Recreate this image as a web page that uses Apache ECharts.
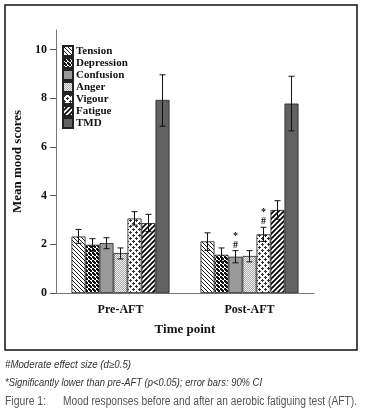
<!DOCTYPE html>
<html><head><meta charset="utf-8">
<script src="https://cdn.jsdelivr.net/npm/echarts@6/dist/echarts.min.js"></script>
<style>html,body{margin:0;padding:0;background:#fff}#c{width:366px;height:417px}</style>
</head><body><div id="c"></div>
<script>
const categories = ['Pre-AFT', 'Post-AFT'];
const moods = ['Tension', 'Depression', 'Confusion', 'Anger', 'Vigour', 'Fatigue', 'TMD'];
const preMean  = [2.32, 1.98, 2.05, 1.64, 3.06, 2.87, 7.93];
const preLow   = [2.04, 1.72, 1.82, 1.40, 2.79, 2.52, 6.85];
const preHigh  = [2.61, 2.23, 2.27, 1.85, 3.34, 3.23, 8.96];
const postMean = [2.12, 1.57, 1.49, 1.52, 2.41, 3.41, 7.78];
const postLow  = [1.75, 1.30, 1.24, 1.28, 2.12, 3.03, 6.66];
const postHigh = [2.47, 1.85, 1.74, 1.74, 2.70, 3.79, 8.90];
const preMarks  = ['', '', '', '', '', '', ''];
const postMarks = ['', '', '*\n#', '', '*\n#', '', ''];
const yTicks = [0, 2, 4, 6, 8, 10];
const notes = ['#Moderate effect size (d\u22650.5)', '*Significantly lower than pre-AFT (p<0.05); error bars: 90% CI'];
const figLabel = 'Figure 1:';
const figCaption = 'Mood responses before and after an aerobic fatiguing test (AFT).';

function pat(s, draw) {
  const c = document.createElement('canvas');
  c.width = s; c.height = s;
  const g = c.getContext('2d');
  draw(g, s);
  return { image: c, repeat: 'repeat' };
}
function diag(g, s, back, lw) {
  g.fillStyle = '#fff'; g.fillRect(0, 0, s, s);
  g.strokeStyle = '#000'; g.lineWidth = lw;
  g.beginPath();
  for (let k = -1; k <= 1; k++) {
    if (back) { g.moveTo(k * s - 1, -1); g.lineTo(k * s + s + 1, s + 1); }
    else { g.moveTo(k * s - 1, s + 1); g.lineTo(k * s + s + 1, -1); }
  }
  g.stroke();
}
const fills = [
  pat(4, (g, s) => diag(g, s, true, 0.9)),
  pat(4, (g, s) => { g.fillStyle = '#fff'; g.fillRect(0, 0, s, s); g.fillStyle = '#111'; g.fillRect(0, 0, 2, 2); g.fillRect(2, 2, 2, 2); g.fillRect(1,1,2,2); }),
  '#9a9a9a',
  pat(2, (g, s) => { g.fillStyle = '#a8a8a8'; g.fillRect(0, 0, s, s); g.fillStyle = '#f2f2f2'; g.fillRect(0, 0, 1, 1); g.fillRect(1, 1, 1, 1); }),
  pat(6, (g, s) => { g.fillStyle = '#fff'; g.fillRect(0, 0, s, s); g.fillStyle = '#333';
    [[1, 1], [4, 4]].forEach(([x, y]) => { g.fillRect(x, y - 1, 1, 3); g.fillRect(x - 1, y, 3, 1); }); }),
  pat(5, (g, s) => diag(g, s, false, 1.7)),
  '#626262'
];

const catGap = 0.24;
const series = moods.map((m, i) => ({
  name: m, type: 'bar', barGap: '0%', barCategoryGap: (catGap * 100) + '%',
  data: [preMean[i], postMean[i]],
  itemStyle: { color: fills[i], borderColor: '#222', borderWidth: 0.8 }
}));

const errData = [];
moods.forEach((m, i) => {
  errData.push([0, i, preLow[i], preHigh[i], preMarks[i]]);
  errData.push([1, i, postLow[i], postHigh[i], postMarks[i]]);
});
series.push({
  type: 'custom', silent: true, z: 10,
  data: errData,
  renderItem: function (params, api) {
    const cat = api.value(0), s = api.value(1);
    const center = api.coord([cat, 0])[0];
    const band = api.size([1, 0])[0];
    const gw = band * (1 - catGap);
    const bw = gw / moods.length;
    const x = center - gw / 2 + bw * (s + 0.5);
    const yl = api.coord([cat, api.value(2)])[1];
    const yh = api.coord([cat, api.value(3)])[1];
    const cw = 3;
    const st = { stroke: '#111', lineWidth: 1 };
    const ch = [
      { type: 'line', shape: { x1: x, y1: yl, x2: x, y2: yh }, style: st },
      { type: 'line', shape: { x1: x - cw, y1: yl, x2: x + cw, y2: yl }, style: st },
      { type: 'line', shape: { x1: x - cw, y1: yh, x2: x + cw, y2: yh }, style: st }
    ];
    const mk = errData[params.dataIndex][4];
    if (mk) {
      ch.push({ type: 'text', style: { text: mk, x: x, y: yh - 1, align: 'center', verticalAlign: 'bottom',
        font: 'bold 10px "Liberation Serif"', lineHeight: 9, fill: '#111' } });
    }
    return { type: 'group', children: ch };
  }
});

// caption text fitted to the widths seen in the reference (narrow sans)
const mctx = document.createElement('canvas').getContext('2d');
function capText(text, font, x, y, w, fill) {
  mctx.font = font;
  const sx = w / mctx.measureText(text).width;
  return { type: 'text', x: x, y: y, scaleX: sx, silent: true,
    style: { text: text, font: font, fill: fill, textVerticalAlign: 'middle', verticalAlign: 'middle' } };
}
const sansI = 'italic 10px "Liberation Sans", sans-serif';
const sans = '12px "Liberation Sans", sans-serif';

const serif = '"Liberation Serif", "Times New Roman", serif';
const chart = echarts.init(document.getElementById('c'), null, { renderer: 'canvas' });
chart.setOption({
  animation: false,
  backgroundColor: '#fff',
  grid: { left: 56, right: 52, top: 30, bottom: 124, containLabel: false },
  legend: {
    data: moods, orient: 'vertical', left: 62, top: 45, padding: 0, icon: 'rect',
    itemWidth: 10, itemHeight: 10, itemGap: 0,
    textStyle: { fontFamily: serif, fontWeight: 'bold', fontSize: 11, color: '#111', lineHeight: 11, padding: [0, 0, 0, -2] }
  },
  xAxis: {
    type: 'category', data: categories,
    name: 'Time point', nameLocation: 'middle', nameGap: 30,
    nameTextStyle: { fontFamily: serif, fontWeight: 'bold', fontSize: 13, color: '#111' },
    axisLine: { lineStyle: { color: '#777', width: 1 } },
    axisTick: { alignWithLabel: true, length: 7, lineStyle: { color: '#555' } },
    axisLabel: { fontFamily: serif, fontWeight: 'bold', fontSize: 12, color: '#111', margin: 11 }
  },
  yAxis: {
    type: 'value', min: 0, max: 10.8, interval: 2,
    name: 'Mean mood scores', nameLocation: 'middle', nameGap: 23,
    nameTextStyle: { fontFamily: serif, fontWeight: 'bold', fontSize: 13, color: '#111' },
    axisLine: { show: true, lineStyle: { color: '#777', width: 1 } },
    axisTick: { show: true, length: 6, customValues: yTicks, lineStyle: { color: '#555' } },
    axisLabel: { customValues: yTicks, fontFamily: serif, fontWeight: 'bold', fontSize: 12, color: '#111', margin: 9 },
    splitLine: { show: false }
  },
  series: series,
  graphic: [
    { type: 'rect', shape: { x: 5, y: 5, width: 352, height: 345 }, style: { fill: 'none', stroke: '#111', lineWidth: 1.5 }, silent: true },
    capText(notes[0], sansI, 5, 365, 126, '#333'),
    capText(notes[1], sansI, 5, 383, 257, '#333'),
    capText(figLabel, sans, 5, 402, 41, '#555'),
    capText(figCaption, sans, 63, 402, 294, '#555')
  ]
});
</script></body></html>
